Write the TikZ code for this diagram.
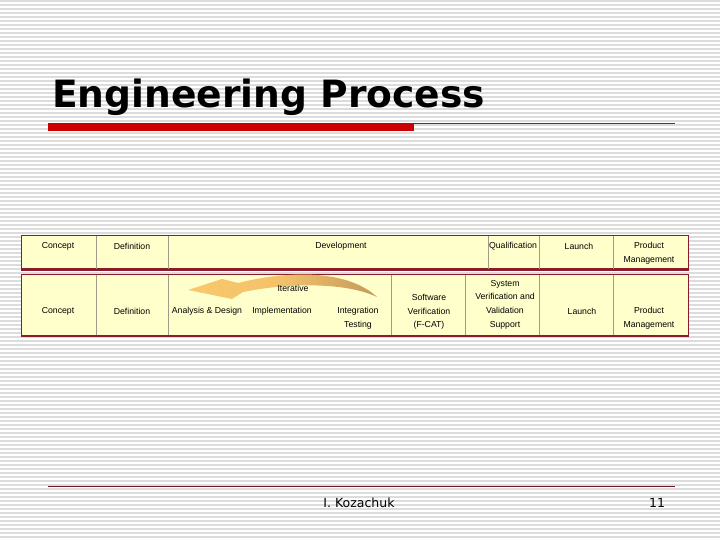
\documentclass[tikz,border=0pt]{standalone}
\usepackage{fontspec}
\setmainfont{Liberation Sans}
\newfontfamily\footfont{DejaVu Sans}
\usetikzlibrary{shadings}
\definecolor{cellfill}{HTML}{FFFFCC}
\definecolor{maroon}{HTML}{8B1C2C}
\definecolor{divgray}{HTML}{A09C8C}
\definecolor{barred}{HTML}{CC0000}
\definecolor{stripe}{HTML}{DCDCDC}
\definecolor{arrowlight}{HTML}{FAC86C}
\definecolor{arrowdark}{HTML}{C49A5C}
\tikzset{
  cell/.style={font=\fontsize{8.7}{13.6}\selectfont, align=center, inner sep=0pt, text=black},
  rowbox/.style={fill=cellfill, draw=maroon, line width=1pt},
  rowbottom/.style={draw=maroon, line width=2.6pt},
  divider/.style={draw=divgray, line width=0.9pt},
  foot/.style={font=\footfont\fontsize{12.5}{14}\selectfont, inner sep=0pt, anchor=base},
}
\begin{document}
\begin{tikzpicture}[x=1pt,y=-1pt]
\useasboundingbox (0,0) rectangle (720,540);
\fill[white] (0,0) rectangle (720,540);
\foreach \yy in {1,5,...,539} {\draw[stripe, line width=1.3pt] (0,\yy) -- (720,\yy);}
% title
\node[anchor=base west, inner sep=0pt, font=\footfont\fontsize{37.6}{44}\selectfont\bfseries] (title) at (52,107.5) {Engineering Process};
\fill[barred] (48,123) rectangle (414,131);
\coordinate (tl1) at (414,123.8);
\coordinate (tl2) at (675,123.8);
\draw[maroon, line width=0.8pt] (tl1) -- (tl2);
% top row
\path[rowbox] (21,235) rectangle (688,270);
\draw[rowbottom] (21,269.5) -- (688,269.5);
\foreach \xx in {96,168,488,539,613} {\draw[divider] (\xx,235.5) -- (\xx,268.5);}
% bottom row
\path[rowbox] (21,274) rectangle (688,336);
\draw[rowbottom] (21,336) -- (688,336);
\foreach \xx in {96,168,391,465,539,613} {\draw[divider] (\xx,274.5) -- (\xx,335);}
% iterative arrow
\path[left color=arrowlight, right color=arrowdark, middle color=arrowlight!85!arrowdark]
  (238,283) .. controls (290,270) and (348,270) .. (377,297)
  .. controls (348,283) and (292,282) .. (243,292)
  -- (232,299) -- (188,290) -- (222,279) -- cycle;
% top row texts
\node[cell] (c1) at (58,246) {Concept};
\node[cell] (d1) at (132,246) {Definition};
\node[cell] (dev) at (341,246) {Development};
\node[cell] (q1) at (513,246) {Qualification};
\node[cell] (l1) at (579,246) {Launch};
\node[cell] (p1) at (649,253) {Product\\Management};
% bottom row texts
\node[cell] (c2) at (58,311) {Concept};
\node[cell] (d2) at (132,311) {Definition};
\node[cell] (ad) at (207,311) {Analysis \& Design};
\node[cell] (impl) at (282,311) {Implementation};
\node[cell] (iter) at (293,288) {Iterative};
\node[cell] (it) at (358,318.5) {Integration\\Testing};
\node[cell] (sv) at (429,312) {Software\\Verification\\(F-CAT)};
\node[cell] (sys) at (505,304.5) {System\\Verification and\\Validation\\Support};
\node[cell] (l2) at (582,311) {Launch};
\node[cell] (p2) at (649,318.5) {Product\\Management};
% footer
\coordinate (f1) at (48,486);
\coordinate (f2) at (675,486);
\draw[maroon!80!black, line width=1pt] (f1) -- (f2);
\node[foot] (author) at (359,507) {I. Kozachuk};
\node[foot] (page) at (657,507) {11};
\end{tikzpicture}
\end{document}
